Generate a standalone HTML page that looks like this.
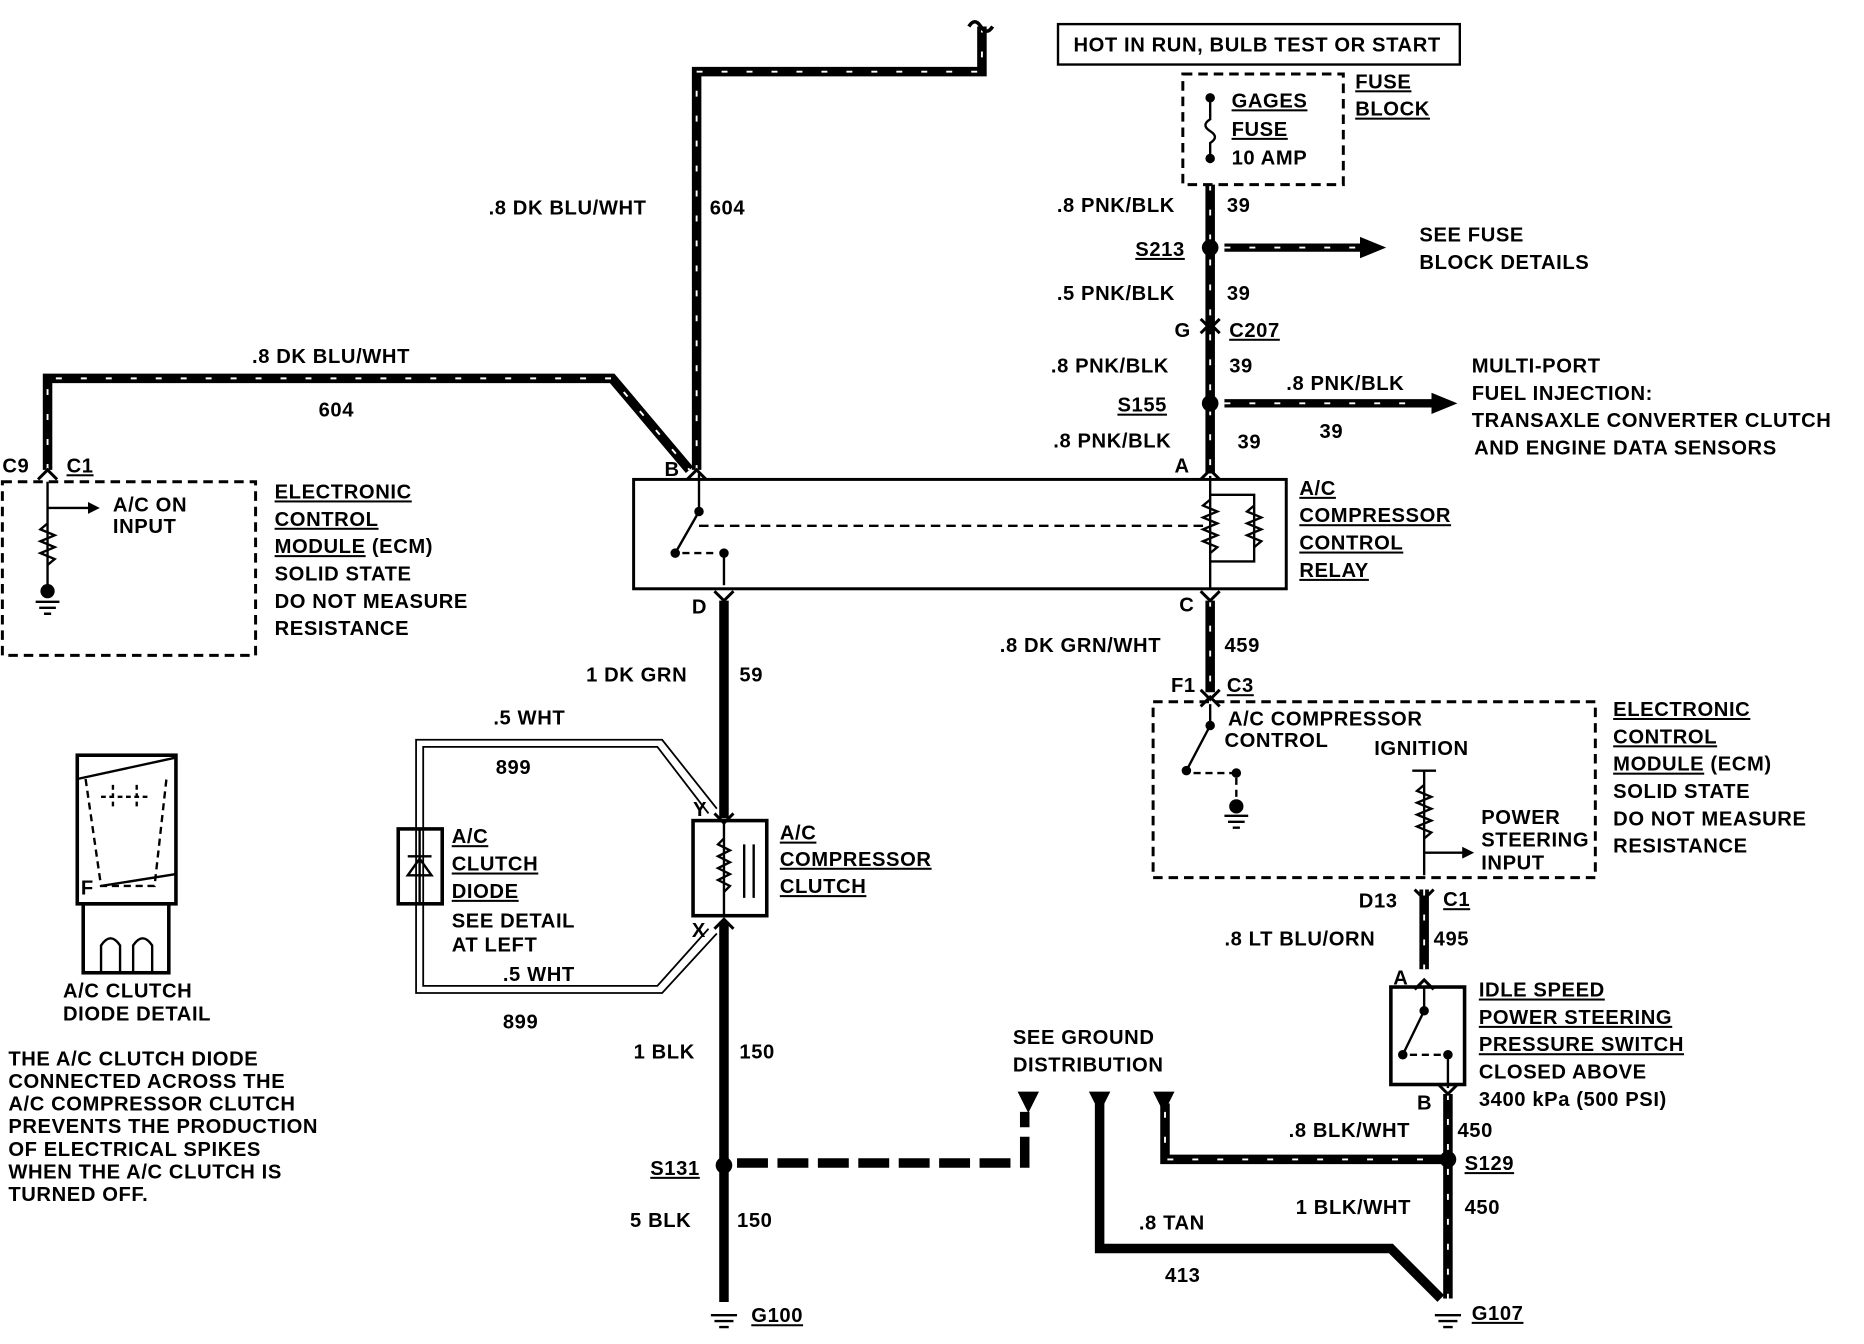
<!DOCTYPE html>
<html><head><meta charset="utf-8"><style>
html,body{margin:0;padding:0;background:#fff;}
svg{display:block}
text{font-family:"Liberation Sans",sans-serif;font-size:17px;font-weight:bold;fill:#000;letter-spacing:0.5px}
.u{text-decoration:underline}
</style></head><body>
<svg width="1864" height="1344" viewBox="0 0 1568 1130" xmlns="http://www.w3.org/2000/svg">
<defs>
<marker id="ah" markerWidth="22" markerHeight="20" refX="2" refY="10" orient="auto" markerUnits="userSpaceOnUse"><path d="M0,1 L22,10 L0,19 z" fill="#000"/></marker>
<marker id="as" markerWidth="10" markerHeight="10" refX="2" refY="5" orient="auto" markerUnits="userSpaceOnUse"><path d="M0,0 L10,5 L0,10 z" fill="#000"/></marker>
</defs>
<g fill="none" stroke="#000" stroke-width="8">
<path d="M826,22 V60 H586 V395"/>
<path d="M40,395 V318 H515 L580,395"/>
<path d="M1018,155 V398"/>
<path d="M1018,505 V582"/>
<path d="M1198,748 V815"/>
<path d="M1218,920 V1092"/>
<path d="M1218,975 H980 V928"/>
<path d="M1030,208 H1146" marker-end="url(#ah)" stroke-width="7"/>
<path d="M1030,339 H1206" marker-end="url(#ah)" stroke-width="7"/>
<path d="M609,505 V688"/>
<path d="M609,775 V1095"/>
<path d="M925,928 V1050 H1170 L1212,1092"/>
<path d="M620,978 H862 V935" stroke-dasharray="26 8"/>
</g>
<g fill="none" stroke="#fff" stroke-width="1.6" stroke-dasharray="5 16">
<path d="M826,22 V60 H586 V395"/>
<path d="M40,395 V318 H515 L580,395"/>
<path d="M1018,155 V398"/>
<path d="M1018,505 V582"/>
<path d="M1198,748 V815"/>
<path d="M1218,920 V1092"/>
<path d="M1218,975 H980 V928"/>
<path d="M1030,208 H1140"/>
<path d="M1030,339 H1195"/>
</g>
<path d="M815,22 q5,-8 10,0 q5,8 10,0" stroke="#000" stroke-width="3" fill="none"/>
<g fill="#000"><path d="M856,918 h18 l-9,18z"/><path d="M916,918 h18 l-9,18z"/><path d="M970,918 h18 l-9,18z"/></g>
<g fill="#000"><circle cx="1018" cy="208" r="7"/><circle cx="1018" cy="339" r="7"/><circle cx="609" cy="980" r="7"/><circle cx="1218" cy="975" r="7"/><circle cx="40" cy="497" r="6"/></g>
<g fill="none" stroke="#000" stroke-width="2.5">
<rect x="890" y="20" width="338" height="34" stroke-width="2"/>
<rect x="995" y="62" width="135" height="93" stroke-dasharray="8 5"/>
<rect x="533" y="403" width="549" height="92"/>
<rect x="2" y="405" width="213" height="146" stroke-dasharray="8 5"/>
<rect x="970" y="590" width="372" height="148" stroke-dasharray="8 5"/>
<rect x="583" y="690" width="62" height="80" stroke-width="3"/>
<rect x="1170" y="830" width="62" height="82" stroke-width="3"/>
<rect x="335" y="697" width="37" height="63" stroke-width="3"/>
<rect x="65" y="635" width="83" height="125" stroke-width="3"/>
<rect x="70" y="760" width="72" height="58" stroke-width="3"/>
</g>
<g fill="none" stroke="#000" stroke-width="1.5">
<path d="M603,680 L557,622 H350 V835 H557 L603,785"/>
<path d="M596,684 L553,628 H356 V829 H553 L596,781"/>
</g>
<g stroke="#000" stroke-width="2" fill="none">
<path d="M1018,400 V495"/>
<path d="M588,398 V430 L568,465"/><circle cx="588" cy="430" r="3" fill="#000"/><circle cx="568" cy="465" r="3" fill="#000"/>
<path d="M609,465 V492"/><circle cx="609" cy="465" r="3" fill="#000"/>
<path d="M588,442 H1018" stroke-dasharray="8 5"/>
<path d="M574,465 H600" stroke-dasharray="6 4"/>
<path d="M1018,416 H1055 V472 H1018"/>
<path d="M1018,420 l-6,5 l12,5 l-12,5 l12,5 l-12,5 l12,5 l-12,5 l12,5 l-6,5"/>
<path d="M1055,425 l-6,5 l12,5 l-12,5 l12,5 l-12,5 l12,5 l-6,5"/>
<path d="M40,405 V495"/><path d="M40,427 H76" marker-end="url(#as)"/>
<path d="M40,440 l-6,5 l12,5 l-12,5 l12,5 l-12,5 l12,5 l-6,5"/>
<path d="M30,506 h20 M33,511 h14 M37,516 h6"/>
<path d="M1018,592 V610 L998,648"/><circle cx="1018" cy="610" r="3" fill="#000"/><circle cx="998" cy="648" r="3" fill="#000"/>
<path d="M1004,650 H1040 V678" stroke-dasharray="6 4"/><circle cx="1040" cy="650" r="3" fill="#000"/>
<circle cx="1040" cy="678" r="5" fill="#000"/><path d="M1030,686 h20 M1033,691 h14 M1037,696 h6"/>
<path d="M1188,648 h20 M1198,648 V736"/>
<path d="M1198,660 l-6,5 l12,5 l-12,5 l12,5 l-12,5 l12,5 l-12,5 l12,5 l-6,5"/>
<path d="M1198,717 H1232" marker-end="url(#as)"/>
<path d="M1018,80 V100 q-8,5 0,10 q8,5 0,10 V135"/><circle cx="1018" cy="82" r="3" fill="#000"/><circle cx="1018" cy="133" r="3" fill="#000"/>
<path d="M609,690 V770"/><path d="M609,705 l-5,5 l10,5 l-10,5 l10,5 l-10,5 l10,5 l-10,5 l10,5 l-5,5"/>
<path d="M626,710 V755 M634,710 V755"/>
<path d="M1198,830 V850 L1180,887"/><circle cx="1198" cy="850" r="3" fill="#000"/><circle cx="1180" cy="887" r="3" fill="#000"/>
<path d="M1186,887 H1216" stroke-dasharray="6 4"/><path d="M1218,887 V915"/><circle cx="1218" cy="887" r="3" fill="#000"/>
<path d="M598,1106 h22 M601,1111 h16 M605,1116 h8"/>
<path d="M1207,1106 h22 M1210,1111 h16 M1214,1116 h8"/>
<path d="M353,697 V760 M343,720 h20 M343,736 h20 l-10,-14 z" fill="none"/>
<path d="M65,655 L148,637"/>
<path d="M72,655 L85,745 H130 L140,655" stroke-dasharray="6 4"/>
<path d="M85,670 h40 M95,660 v18 M115,660 v18" stroke-dasharray="4 3"/>
<path d="M85,745 L148,735"/>
<path d="M85,818 V795 q8,-12 16,0 V818 M112,818 V795 q8,-12 16,0 V818"/>
</g>
<g stroke="#000" stroke-width="2.5" fill="none">
<path d="M32,403 l8,-8 l8,8"/><path d="M578,403 l8,-8 l8,8"/><path d="M1010,403 l8,-8 l8,8"/>
<path d="M601,497 l8,8 l8,-8"/><path d="M1010,497 l8,8 l8,-8"/>
<path d="M1010,268 l8,8 l8,-8 M1010,280 l8,-8 l8,8"/>
<path d="M1010,580 l8,8 l8,-8 M1010,594 l8,-8 l8,8"/>
<path d="M1190,748 l8,8 l8,-8"/><path d="M1190,832 l8,-8 l8,8"/>
<path d="M601,684 l8,8 l8,-8"/><path d="M601,781 l8,-8 l8,8"/>
<path d="M1210,912 l8,8 l8,-8"/>
</g>
<text x="903" y="43" font-size="15">HOT IN RUN, BULB TEST OR START</text>
<text x="1036" y="90" class="u">GAGES</text><text x="1036" y="114" class="u">FUSE</text><text x="1036" y="138" font-size="15">10 AMP</text>
<text x="1140" y="74" class="u">FUSE</text><text x="1140" y="97" class="u">BLOCK</text>
<text x="411" y="180">.8 DK BLU/WHT</text><text x="597" y="180">604</text>
<text x="889" y="178">.8 PNK/BLK</text><text x="1032" y="178">39</text>
<text x="955" y="215" class="u">S213</text>
<text x="1194" y="203">SEE FUSE</text><text x="1194" y="226">BLOCK DETAILS</text>
<text x="889" y="252">.5 PNK/BLK</text><text x="1032" y="252">39</text>
<text x="988" y="283">G</text><text x="1034" y="283" class="u">C207</text>
<text x="884" y="313">.8 PNK/BLK</text><text x="1034" y="313">39</text>
<text x="940" y="346" class="u">S155</text>
<text x="1082" y="328">.8 PNK/BLK</text><text x="1110" y="368">39</text>
<text x="1238" y="313">MULTI-PORT</text><text x="1238" y="336">FUEL INJECTION:</text>
<text x="1238" y="359">TRANSAXLE CONVERTER CLUTCH</text><text x="1240" y="382">AND ENGINE DATA SENSORS</text>
<text x="886" y="376">.8 PNK/BLK</text><text x="1041" y="377">39</text>
<text x="988" y="397">A</text>
<text x="212" y="305">.8 DK BLU/WHT</text><text x="268" y="350">604</text>
<text x="2" y="397">C9</text><text x="56" y="397" class="u">C1</text>
<text x="559" y="400">B</text>
<text x="95" y="430" font-size="15">A/C ON</text><text x="95" y="448" font-size="15">INPUT</text>
<text x="231" y="419" class="u">ELECTRONIC</text><text x="231" y="442" class="u">CONTROL</text>
<text x="231" y="465"><tspan class="u">MODULE</tspan> (ECM)</text><text x="231" y="488">SOLID STATE</text>
<text x="231" y="511">DO NOT MEASURE</text><text x="231" y="534">RESISTANCE</text>
<text x="1093" y="416" class="u">A/C</text><text x="1093" y="439" class="u">COMPRESSOR</text>
<text x="1093" y="462" class="u">CONTROL</text><text x="1093" y="485" class="u">RELAY</text>
<text x="582" y="516">D</text><text x="992" y="514">C</text>
<text x="841" y="548">.8 DK GRN/WHT</text><text x="1030" y="548">459</text>
<text x="493" y="573">1 DK GRN</text><text x="622" y="573">59</text>
<text x="985" y="582">F1</text><text x="1032" y="582" class="u">C3</text>
<text x="1033" y="610" font-size="15">A/C COMPRESSOR</text><text x="1030" y="628" font-size="15">CONTROL</text>
<text x="1156" y="635" font-size="15">IGNITION</text>
<text x="1246" y="693" font-size="15">POWER</text><text x="1246" y="712" font-size="15">STEERING</text><text x="1246" y="731" font-size="15">INPUT</text>
<text x="1357" y="602" class="u">ELECTRONIC</text><text x="1357" y="625" class="u">CONTROL</text>
<text x="1357" y="648"><tspan class="u">MODULE</tspan> (ECM)</text><text x="1357" y="671">SOLID STATE</text>
<text x="1357" y="694">DO NOT MEASURE</text><text x="1357" y="717">RESISTANCE</text>
<text x="415" y="609">.5 WHT</text><text x="417" y="651">899</text>
<text x="380" y="709" class="u">A/C</text><text x="380" y="732" class="u">CLUTCH</text><text x="380" y="755" class="u">DIODE</text>
<text x="380" y="780">SEE DETAIL</text><text x="380" y="800">AT LEFT</text>
<text x="423" y="825">.5 WHT</text><text x="423" y="865">899</text>
<text x="583" y="686">Y</text><text x="582" y="788">X</text>
<text x="656" y="706" class="u">A/C</text><text x="656" y="728" class="u">COMPRESSOR</text><text x="656" y="751" class="u">CLUTCH</text>
<text x="1143" y="763">D13</text><text x="1214" y="762" class="u">C1</text>
<text x="1030" y="795">.8 LT BLU/ORN</text><text x="1206" y="795">495</text>
<text x="1172" y="828">A</text>
<text x="1244" y="838" class="u">IDLE SPEED</text><text x="1244" y="861" class="u">POWER STEERING</text>
<text x="1244" y="884" class="u">PRESSURE SWITCH</text><text x="1244" y="907">CLOSED ABOVE</text>
<text x="1244" y="930">3400 kPa (500 PSI)</text>
<text x="1192" y="933">B</text><text x="1226" y="956">450</text>
<text x="1084" y="956">.8 BLK/WHT</text><text x="1232" y="984" class="u">S129</text>
<text x="1090" y="1021">1 BLK/WHT</text><text x="1232" y="1021">450</text>
<text x="958" y="1034">.8 TAN</text><text x="980" y="1078">413</text>
<text x="852" y="878">SEE GROUND</text><text x="852" y="901">DISTRIBUTION</text>
<text x="533" y="890">1 BLK</text><text x="622" y="890">150</text>
<text x="547" y="988" class="u">S131</text>
<text x="530" y="1032">5 BLK</text><text x="620" y="1032">150</text>
<text x="632" y="1112" class="u">G100</text><text x="1238" y="1110" class="u">G107</text>
<text x="53" y="839" font-size="15">A/C CLUTCH</text><text x="53" y="858" font-size="15">DIODE DETAIL</text>
<text x="7" y="896" font-size="15">THE A/C CLUTCH DIODE</text>
<text x="7" y="915" font-size="15">CONNECTED ACROSS THE</text>
<text x="7" y="934" font-size="15">A/C COMPRESSOR CLUTCH</text>
<text x="7" y="953" font-size="15">PREVENTS THE PRODUCTION</text>
<text x="7" y="972" font-size="15">OF ELECTRICAL SPIKES</text>
<text x="7" y="991" font-size="15">WHEN THE A/C CLUTCH IS</text>
<text x="7" y="1010" font-size="15">TURNED OFF.</text>
<text x="68" y="752" font-size="14">F</text>
</svg>
</body></html>
